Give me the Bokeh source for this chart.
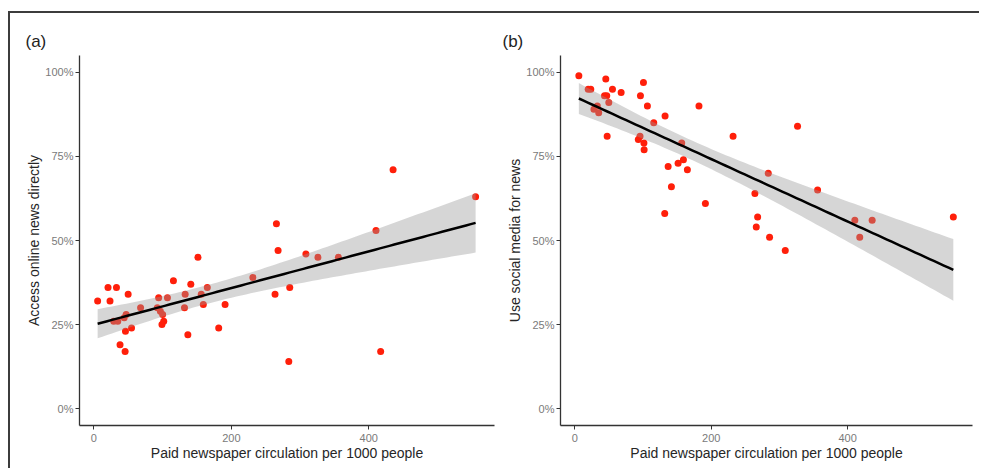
import numpy as np
from bokeh.plotting import figure
from bokeh.layouts import row
from bokeh.models import FixedTicker, PrintfTickFormatter, Range1d, GlobalInlineStyleSheet
from bokeh.embed import file_html
from bokeh.resources import INLINE

# ---- data ----
a_circ = [5.4, 20.5, 23.4, 32.8, 49.8, 28.8, 34.7, 44.0, 46.9, 45.9, 54.7, 38.0, 45.4, 67.9,
          94.2, 92.3, 96.7, 100.0, 101.6, 99.0, 107.0, 115.7, 132.8, 131.8, 141.0, 136.7,
          151.4, 156.2, 165.0, 159.2, 190.9, 181.6, 231.3, 263.6, 268.0, 285.0, 283.6,
          308.5, 326.0, 355.8, 410.5, 417.3, 265.6, 435.4, 555.5]
a_online = [32, 36, 32, 36, 34, 26, 26, 27, 28, 23, 24, 19, 17, 30, 33, 30, 29, 28, 26, 25,
            33, 38, 34, 30, 37, 22, 45, 34, 36, 31, 31, 24, 39, 34, 47, 36, 14, 46, 45, 45,
            53, 17, 55, 71, 63]

b_circ = [5.9, 19.6, 23.4, 45.4, 43.5, 46.8, 49.8, 55.2, 67.9, 28.0, 33.0, 35.0, 47.4, 96.2,
          100.6, 106.4, 115.7, 132.3, 93.1, 95.6, 101.3, 101.6, 156.7, 182.0, 136.8, 151.4,
          159.2, 165.0, 141.6, 191.4, 131.8, 232.0, 326.5, 283.6, 264.0, 268.0, 266.0,
          285.5, 355.9, 410.5, 435.9, 554.9, 308.5, 417.7]
b_social = [99, 95, 95, 98, 93, 93, 91, 95, 94, 89, 90, 88, 81, 93, 97, 90, 85, 87, 80, 81,
            79, 77, 79, 90, 72, 73, 74, 71, 66, 61, 58, 81, 84, 70, 64, 57, 54, 51, 65, 56,
            56, 57, 47, 51]

x_ticks = [0, 200, 400]
y_ticks = [0, 25, 50, 75, 100]
x_title = "Paid newspaper circulation per 1000 people"
panel_titles = ["(a)", "(b)"]
y_titles = ["Access online news directly", "Use social media for news"]

FONT = "Liberation Sans"


def t975(df):
    z = 1.959964
    return (z + (z**3 + z) / (4 * df) + (5 * z**5 + 16 * z**3 + 3 * z) / (96 * df**2)
            + (3 * z**7 + 19 * z**5 + 17 * z**3 - 15 * z) / (384 * df**3))


def lm_band(xv, yv):
    X = np.asarray(xv, float)
    Y = np.asarray(yv, float)
    n = len(X)
    b1, b0 = np.polyfit(X, Y, 1)
    xs = np.linspace(X.min(), X.max(), 80)
    yh = b0 + b1 * xs
    res = Y - (b0 + b1 * X)
    s = np.sqrt((res**2).sum() / (n - 2))
    xm = X.mean()
    se = s * np.sqrt(1.0 / n + (xs - xm) ** 2 / ((X - xm) ** 2).sum())
    t = t975(n - 2)
    return xs, yh, yh - t * se, yh + t * se


def make_panel(xv, yv, title, ytitle, width, mbl, mbr, toff):
    p = figure(width=width, height=455, output_backend="svg", toolbar_location=None,
               x_range=Range1d(-21, 583), y_range=Range1d(-5, 105),
               min_border_left=mbl, min_border_right=mbr, min_border_top=42,
               min_border_bottom=43, title=title)
    p.title.text_font = FONT
    p.title.text_font_size = "17px"
    p.title.text_font_style = "normal"
    p.title.text_color = "#222222"
    p.title.align = "left"
    p.title.offset = toff
    p.title.standoff = 10
    p.outline_line_color = None
    p.grid.visible = False
    p.background_fill_color = "white"
    p.border_fill_color = "white"

    p.scatter(xv, yv, size=7, fill_color="#ff1f0a", line_color=None)
    xs, yh, lo, hi = lm_band(xv, yv)
    p.varea(x=xs, y1=lo, y2=hi, fill_color="#999999", fill_alpha=0.4)
    p.line(xs, yh, line_color="black", line_width=2.5)

    for ax in (p.xaxis[0], p.yaxis[0]):
        ax.axis_line_color = "#333333"
        ax.axis_line_width = 1.3
        ax.major_tick_line_color = "#333333"
        ax.major_tick_out = 4
        ax.major_tick_in = 0
        ax.minor_tick_line_color = None
        ax.major_label_text_font = FONT
        ax.major_label_text_font_size = "11px"
        ax.major_label_text_color = "#7a7a7a"
        ax.axis_label_text_font = FONT
        ax.axis_label_text_font_size = "14px"
        ax.axis_label_text_font_style = "normal"
        ax.axis_label_text_color = "#262626"
    p.xaxis.ticker = FixedTicker(ticks=x_ticks)
    p.yaxis.ticker = FixedTicker(ticks=y_ticks)
    p.yaxis.formatter = PrintfTickFormatter(format="%d%%")
    p.xaxis.axis_label = x_title
    p.yaxis.axis_label = ytitle
    p.xaxis.major_label_standoff = 4
    p.yaxis.major_label_standoff = 2
    p.xaxis.axis_label_standoff = 0
    p.yaxis.axis_label_standoff = 0
    return p


p1 = make_panel(a_circ, a_online, panel_titles[0], y_titles[0], 488, 69, 4, -54)
p2 = make_panel(b_circ, b_social, panel_titles[1], y_titles[1], 481, 62, 7, -58)

layout = row(p1, p2, styles={"border-top": "2px solid #3c3c3c",
                             "border-left": "2px solid #3c3c3c",
                             "margin-top": "11px",
                             "margin-left": "8px"},
             stylesheets=[GlobalInlineStyleSheet(css="html, body { overflow: hidden; }")])

open("out.html", "w").write(file_html(layout, INLINE))
